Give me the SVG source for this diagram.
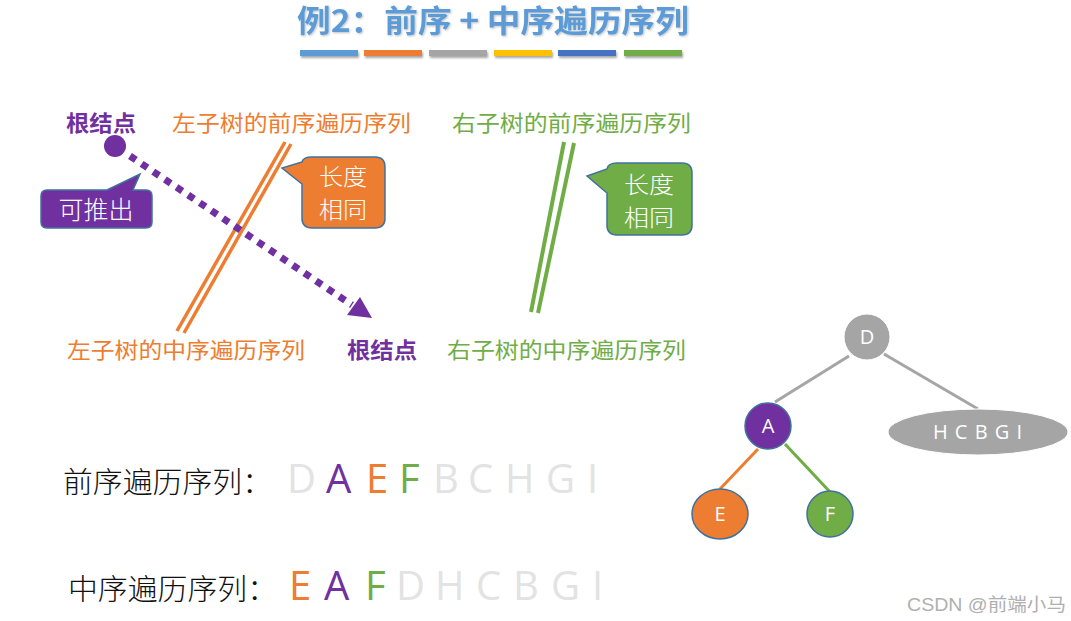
<svg xmlns="http://www.w3.org/2000/svg" width="1071" height="621" viewBox="0 0 1071 621">
<defs>
<filter id="sh" x="-10%" y="-50%" width="120%" height="250%">
<feDropShadow dx="1" dy="2" stdDeviation="1.2" flood-color="#000" flood-opacity="0.35"/>
</filter>
<filter id="tsh" x="-5%" y="-20%" width="110%" height="140%">
<feDropShadow dx="1" dy="1" stdDeviation="1" flood-color="#000" flood-opacity="0.25"/>
</filter>
</defs>
<style>
.cjk{font-family:"Noto Sans CJK SC","Noto Sans",sans-serif;}
.lbl{font-size:22px;}
.pur{fill:#7030A0;}
.org{fill:#ED7D31;}
.grn{fill:#70AD47;}
.gry{fill:#E3E3E3;}
.call{stroke:#41719C;stroke-width:1.5;}
.ctext{font-family:"Noto Sans CJK SC",sans-serif;font-size:25px;fill:#fff;font-weight:300;text-anchor:middle;}
.ct2{font-size:22.5px;}
.let{font-family:"Open Sans","Liberation Sans",sans-serif;font-size:40px;}
.seq{font-family:"Noto Sans CJK SC",serif;font-size:29px;fill:#111;font-weight:300;}
.ntext{font-family:"Open Sans","Liberation Sans",sans-serif;font-size:20px;fill:#fff;text-anchor:middle;}
.edge{stroke-width:3;fill:none;}
</style>
<rect width="1071" height="621" fill="#fff"/>

<g id="title">
<text x="297" y="32" class="cjk" font-size="31" font-weight="bold" fill="#5B9BD5" textLength="392" lengthAdjust="spacingAndGlyphs" filter="url(#tsh)">例2：前序 + 中序遍历序列</text>
<g filter="url(#sh)">
<rect x="300" y="50" width="58" height="6" fill="#5B9BD5"/>
<rect x="364" y="50" width="58" height="6" fill="#ED7D31"/>
<rect x="429" y="50" width="58" height="6" fill="#A5A5A5"/>
<rect x="494" y="50" width="58" height="6" fill="#FFC000"/>
<rect x="558" y="50" width="58" height="6" fill="#4472C4"/>
<rect x="624" y="50" width="58" height="6" fill="#70AD47"/>
</g>
</g>

<g id="labels">
<text x="66" y="131" class="cjk lbl pur" font-weight="bold" textLength="70" lengthAdjust="spacingAndGlyphs">根结点</text>
<text x="172" y="131" class="cjk lbl org" textLength="239" lengthAdjust="spacingAndGlyphs">左子树的前序遍历序列</text>
<text x="452" y="131" class="cjk lbl grn" textLength="239" lengthAdjust="spacingAndGlyphs">右子树的前序遍历序列</text>
<text x="67" y="358" class="cjk lbl org" textLength="238" lengthAdjust="spacingAndGlyphs">左子树的中序遍历序列</text>
<text x="347" y="358" class="cjk lbl pur" font-weight="bold" textLength="70" lengthAdjust="spacingAndGlyphs">根结点</text>
<text x="447" y="358" class="cjk lbl grn" textLength="239" lengthAdjust="spacingAndGlyphs">右子树的中序遍历序列</text>
</g>

<g id="pairs">
<line x1="285" y1="142" x2="177" y2="331" stroke="#ED7D31" stroke-width="3.5"/>
<line x1="291" y1="144" x2="184" y2="333" stroke="#ED7D31" stroke-width="3.5"/>
<line x1="564" y1="142" x2="531" y2="312" stroke="#70AD47" stroke-width="4"/>
<line x1="574" y1="143" x2="538" y2="313" stroke="#70AD47" stroke-width="4"/>
</g>

<g id="root-arrow">
<circle cx="115" cy="146" r="11" fill="#7030A0"/>
<line x1="130" y1="156" x2="352" y2="305" stroke="#7030A0" stroke-width="7" stroke-dasharray="7 7"/>
<polygon points="372,318 347,315 360,297" fill="#7030A0"/>
</g>

<g id="callout-derive">
<path class="call" fill="#7030A0" d="M47,190 L107,190 L140,174 L133,190 L146,190 Q152,190 152,196 L152,222 Q152,228 146,228 L47,228 Q41,228 41,222 L41,196 Q41,190 47,190 Z"/>
<text x="96" y="219" class="ctext">可推出</text>
</g>

<g id="callout-left">
<path class="call" fill="#ED7D31" d="M312,157 L375,157 Q385,157 385,167 L385,218 Q385,228 375,228 L312,228 Q302,228 302,218 L302,184 L282,168 L302,162 Q303,157 312,157 Z"/>
<text x="343" y="185" class="ctext ct2" textLength="48" lengthAdjust="spacingAndGlyphs">长度</text>
<text x="343" y="218" class="ctext ct2" textLength="48" lengthAdjust="spacingAndGlyphs">相同</text>
</g>

<g id="callout-right">
<path class="call" fill="#70AD47" d="M617,163 L682,163 Q692,163 692,173 L692,225 Q692,235 682,235 L617,235 Q607,235 607,225 L607,193 L587,176 L607,169 Q608,163 617,163 Z"/>
<text x="649" y="193" class="ctext ct2" textLength="50" lengthAdjust="spacingAndGlyphs">长度</text>
<text x="649" y="226" class="ctext ct2" textLength="50" lengthAdjust="spacingAndGlyphs">相同</text>
</g>

<g id="tree-edges">
<line class="edge" x1="849" y1="356" x2="775" y2="402" stroke="#A5A5A5"/>
<line class="edge" x1="884" y1="354" x2="978" y2="409" stroke="#A5A5A5"/>
<line class="edge" x1="758" y1="449" x2="720" y2="489" stroke="#ED7D31"/>
<line class="edge" x1="785" y1="444" x2="830" y2="492" stroke="#70AD47"/>
</g>

<g id="node-D">
<circle cx="867" cy="337" r="23" fill="#A5A5A5" stroke="#fff" stroke-width="1"/>
<text x="867" y="344" class="ntext">D</text>
</g>
<g id="node-A">
<circle cx="768" cy="426" r="23" fill="#7030A0" stroke="#41719C" stroke-width="1.5"/>
<text x="768" y="433" class="ntext">A</text>
</g>
<g id="node-E">
<ellipse cx="720" cy="514" rx="28" ry="25" fill="#ED7D31" stroke="#41719C" stroke-width="1.5"/>
<text x="720" y="521" class="ntext">E</text>
</g>
<g id="node-F">
<circle cx="830" cy="514" r="23" fill="#70AD47" stroke="#41719C" stroke-width="1.5"/>
<text x="830" y="521" class="ntext">F</text>
</g>
<g id="node-rest">
<ellipse cx="978" cy="432" rx="90" ry="23" fill="#A5A5A5" stroke="#fff" stroke-width="1"/>
<text x="978" y="439" class="ntext" letter-spacing="1">H C B G I</text>
</g>

<g id="preorder">
<text x="63" y="493" class="seq" textLength="209" lengthAdjust="spacingAndGlyphs">前序遍历序列：</text>
<text x="287" y="493" class="let gry">D</text>
<text x="326" y="493" class="let pur">A</text>
<text x="366" y="493" class="let org">E</text>
<text x="399" y="493" class="let grn">F</text>
<text x="433" y="493" class="let gry">B</text>
<text x="468" y="493" class="let gry">C</text>
<text x="505" y="493" class="let gry">H</text>
<text x="546" y="493" class="let gry">G</text>
<text x="587" y="493" class="let gry">I</text>
</g>

<g id="inorder">
<text x="68" y="600" class="seq" textLength="209" lengthAdjust="spacingAndGlyphs">中序遍历序列：</text>
<text x="289" y="600" class="let org">E</text>
<text x="324" y="600" class="let pur">A</text>
<text x="365" y="600" class="let grn">F</text>
<text x="396" y="600" class="let gry">D</text>
<text x="435" y="600" class="let gry">H</text>
<text x="476" y="600" class="let gry">C</text>
<text x="513" y="600" class="let gry">B</text>
<text x="551" y="600" class="let gry">G</text>
<text x="592" y="600" class="let gry">I</text>
</g>

<text x="907" y="611" font-family="'Liberation Sans','Noto Sans CJK SC',sans-serif" font-size="18" fill="#B0B0B0" textLength="159" lengthAdjust="spacingAndGlyphs">CSDN @前端小马</text>
</svg>
